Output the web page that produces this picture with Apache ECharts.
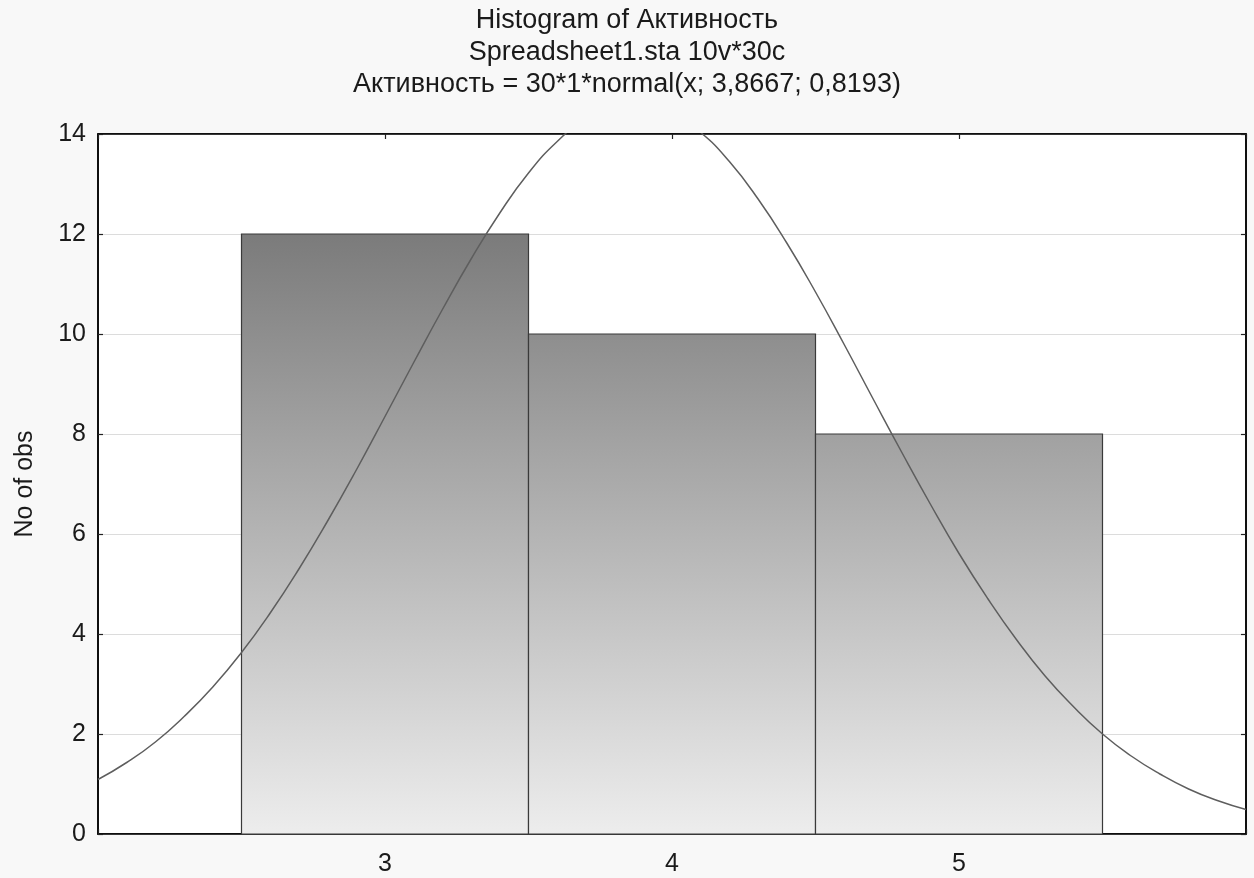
<!DOCTYPE html>
<html><head><meta charset="utf-8">
<script src="https://cdn.jsdelivr.net/npm/echarts@6/dist/echarts.min.js"></script>
<style>html,body{margin:0;padding:0;background:#f8f8f8}#c{width:1254px;height:878px}</style>
</head><body><div id="c"></div>
<script>
var titleLines = ['Histogram of Активность', 'Spreadsheet1.sta 10v*30c', 'Активность = 30*1*normal(x; 3,8667; 0,8193)'];
var yAxisName = 'No of obs';
var binStart = [2.5, 3.5, 4.5];
var binEnd = [3.5, 4.5, 5.5];
var binCount = [12, 10, 8];
var xTickLabels = ['3', '4', '5'];
var curveX = [2.0,2.1,2.2,2.3,2.4,2.5,2.6,2.7,2.8,2.9,3.0,3.1,3.2,3.3,3.4,3.5,3.6,3.7,3.8,3.9,4.0,4.1,4.2,4.3,4.4,4.5,4.6,4.7,4.8,4.9,5.0,5.1,5.2,5.3,5.4,5.5,5.6,5.7,5.8,5.9,6.0];
var curveY = [1.09,1.43,1.84,2.35,2.94,3.63,4.42,5.30,6.26,7.28,8.35,9.43,10.49,11.50,12.42,13.22,13.85,14.31,14.56,14.60,14.42,14.03,13.45,12.70,11.82,10.84,9.79,8.71,7.64,6.60,5.61,4.71,3.89,3.16,2.54,2.00,1.56,1.20,0.90,0.67,0.49];

var chart = echarts.init(document.getElementById('c'));
var font = 'Liberation Sans, Arial, sans-serif';
var binData = binStart.map(function (s, i) { return [s, binEnd[i], binCount[i]]; });
var curveData = curveX.map(function (x, i) { return [x, curveY[i]]; });
var gTop = 134, gBottom = 834;
function tick() { return { show: true, inside: true, length: 5, lineStyle: { color: '#222', width: 1.2 } }; }
function axLine() { return { show: true, onZero: false, lineStyle: { color: '#000', width: 1.5 } }; }

chart.setOption({
  backgroundColor: '#f8f8f8',
  animation: false,
  title: titleLines.map(function (t, i) {
    return { text: t, left: 'center', top: 7 + i * 32, padding: 0,
      textStyle: { fontFamily: font, fontSize: 27, fontWeight: 'normal', color: '#1a1a1a' } };
  }),
  grid: { left: 98, top: gTop, right: 8, bottom: 878 - gBottom, show: true,
    backgroundColor: '#ffffff', borderColor: '#000', borderWidth: 1.5 },
  xAxis: [{
    type: 'value', min: 2, max: 6, interval: 1, position: 'bottom',
    axisLine: axLine(), axisTick: tick(), splitLine: { show: false },
    axisLabel: { fontFamily: font, fontSize: 25, color: '#1a1a1a', margin: 18,
      formatter: function (v) { var s = String(v); return xTickLabels.indexOf(s) >= 0 ? s : ''; } }
  }, {
    type: 'value', min: 2, max: 6, interval: 1, position: 'top',
    axisLine: axLine(), axisTick: tick(), splitLine: { show: false }, axisLabel: { show: false }
  }],
  yAxis: [{
    type: 'value', min: 0, max: 14, interval: 2, position: 'left',
    name: yAxisName, nameLocation: 'middle', nameGap: 60, nameRotate: 90,
    nameTextStyle: { fontFamily: font, fontSize: 25, color: '#1a1a1a' },
    axisLine: axLine(), axisTick: tick(),
    splitLine: { show: true, lineStyle: { color: '#dcdcdc', width: 1 } },
    axisLabel: { fontFamily: font, fontSize: 25, color: '#1a1a1a', margin: 12 }
  }, {
    type: 'value', min: 0, max: 14, interval: 2, position: 'right',
    axisLine: axLine(), axisTick: tick(), splitLine: { show: false }, axisLabel: { show: false }
  }],
  series: [
    {
      type: 'custom',
      data: binData,
      encode: { x: [0, 1], y: 2 },
      renderItem: function (params, api) {
        var p0 = api.coord([api.value(0), api.value(2)]);
        var p1 = api.coord([api.value(1), 0]);
        return {
          type: 'rect',
          shape: { x: p0[0], y: p0[1], width: p1[0] - p0[0], height: p1[1] - p0[1] },
          style: {
            fill: new echarts.graphic.LinearGradient(0, gTop, 0, gBottom,
              [{ offset: 0, color: '#686868' }, { offset: 1, color: '#ededed' }], true),
            stroke: '#3a3a3a', lineWidth: 1.2
          }
        };
      },
      z: 2
    },
    {
      type: 'line',
      data: curveData,
      smooth: true,
      showSymbol: false,
      clip: true,
      lineStyle: { color: '#5e5e5e', width: 1.5 },
      z: 3
    }
  ]
});
</script></body></html>
